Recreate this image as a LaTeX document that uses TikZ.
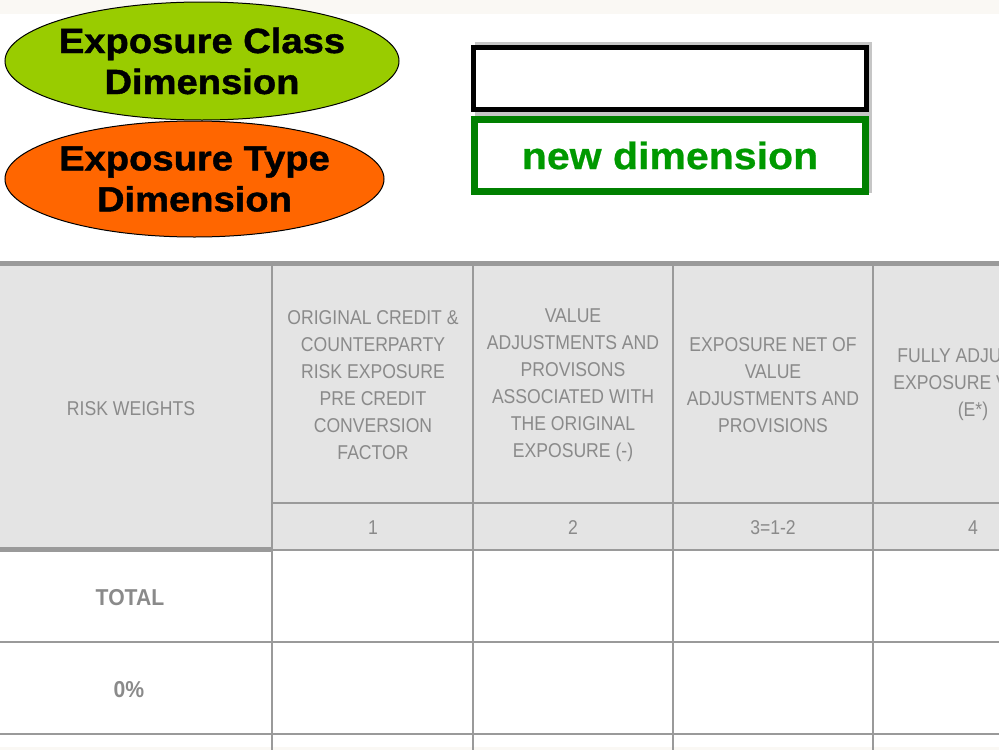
\documentclass[tikz,border=0pt]{standalone}
\usepackage{fontspec}
\setmainfont{Liberation Sans}
\newfontfamily\bigfont{Liberation Sans}[FakeStretch=1.09, FakeBold=1.2]
\newfontfamily\greenfont{Liberation Sans}[FakeStretch=1.08, FakeBold=0.6]
\newfontfamily\hdrfont{Liberation Sans}[FakeStretch=0.88]
\newfontfamily\rowfont{Liberation Sans}[FakeStretch=0.92]
\usetikzlibrary{shapes.geometric}
\definecolor{classgreen}{HTML}{99CC00}
\definecolor{typeorange}{HTML}{FF6600}
\definecolor{newgreen}{HTML}{009900}
\definecolor{boxgreen}{HTML}{008000}
\definecolor{hdrfill}{HTML}{E4E4E4}
\definecolor{hdrtext}{HTML}{8A8A8A}
\definecolor{gridgray}{HTML}{9A9A9A}
\definecolor{bandcol}{HTML}{FAF8F4}
\tikzset{
  dimell/.style={ellipse, draw=black, line width=1pt, inner sep=0pt},
  elltext/.style={inner sep=0pt, align=center,
    font=\bigfont\bfseries\fontsize{35}{41}\selectfont},
  hdr/.style={inner sep=0pt, align=center, text=hdrtext,
    font=\hdrfont\fontsize{20}{27}\selectfont},
  rowlbl/.style={inner sep=0pt, text=hdrtext, font=\rowfont\bfseries\fontsize{23}{26}\selectfont},
  gridline/.style={draw=gridgray, line width=2pt},
  thickline/.style={draw=gridgray, line width=5pt},
}
\begin{document}
\begin{tikzpicture}[x=1pt,y=-1pt]
\useasboundingbox (0,0) rectangle (999,750);
\clip (0,0) rectangle (999,750);
% faint bands
\fill[bandcol] (0,0) rectangle (999,14);
\fill[bandcol] (0,747) rectangle (999,750);
% table header fill
\fill[hdrfill] (0,266) rectangle (999,550);
% grid
\foreach \x in {272,473,673,873} \draw[gridline] (\x,266) -- (\x,750);
\draw[gridline] (272,503) -- (999,503);
\draw[gridline] (272,550) -- (999,550);
\draw[gridline] (0,642) -- (999,642);
\draw[gridline] (0,734) -- (999,734);
\draw[thickline] (0,263.5) -- (999,263.5);
\draw[thickline] (0,549) -- (272,549);
% header texts
\node[hdr] (h0) at (131,409) {RISK WEIGHTS};
\node[hdr] (h1) at (373,385.5) {ORIGINAL CREDIT \&\\COUNTERPARTY\\RISK EXPOSURE\\PRE CREDIT\\CONVERSION\\FACTOR};
\node[hdr] (h2) at (573,385.5) {VALUE\\ADJUSTMENTS AND\\PROVISONS\\ASSOCIATED WITH\\THE ORIGINAL\\EXPOSURE (-)};
\node[hdr] (h3) at (773,385.5) {EXPOSURE NET OF\\VALUE\\ADJUSTMENTS AND\\PROVISIONS};
\node[hdr] (h4) at (973,385) {FULLY ADJUSTED\\EXPOSURE VALUE\\(E*)};
\node[hdr] (n1) at (373,528) {1};
\node[hdr] (n2) at (573,528) {2};
\node[hdr] (n3) at (773,528) {3=1-2};
\node[hdr] (n4) at (973,528) {4};
\node[rowlbl] (rtotal) at (130,598) {TOTAL};
\node[rowlbl] (rzero) at (129,690) {0\%};
% ellipses
\node[dimell, fill=classgreen, minimum width=394, minimum height=118] (cls) at (202,61) {};
\node[elltext] (clsT) at (cls.center) {Exposure Class\\Dimension};
\node[dimell, fill=typeorange, minimum width=379, minimum height=116] (typ) at (194.5,179) {};
\node[elltext] (typT) at (typ.center) {Exposure Type\\Dimension};
% boxes
\fill[gray!45] (475,42) rectangle (872,193);
\node[draw=black, fill=white, line width=5pt, minimum width=393, minimum height=62, inner sep=0pt] (blank) at (670,78.5) {};
\node[draw=boxgreen, fill=white, line width=7pt, minimum width=391, minimum height=72, inner sep=0pt,
  text=newgreen, font=\greenfont\bfseries\fontsize{38}{44}\selectfont] (newdim) at (670,155.5) {new dimension};
\end{tikzpicture}
\end{document}
